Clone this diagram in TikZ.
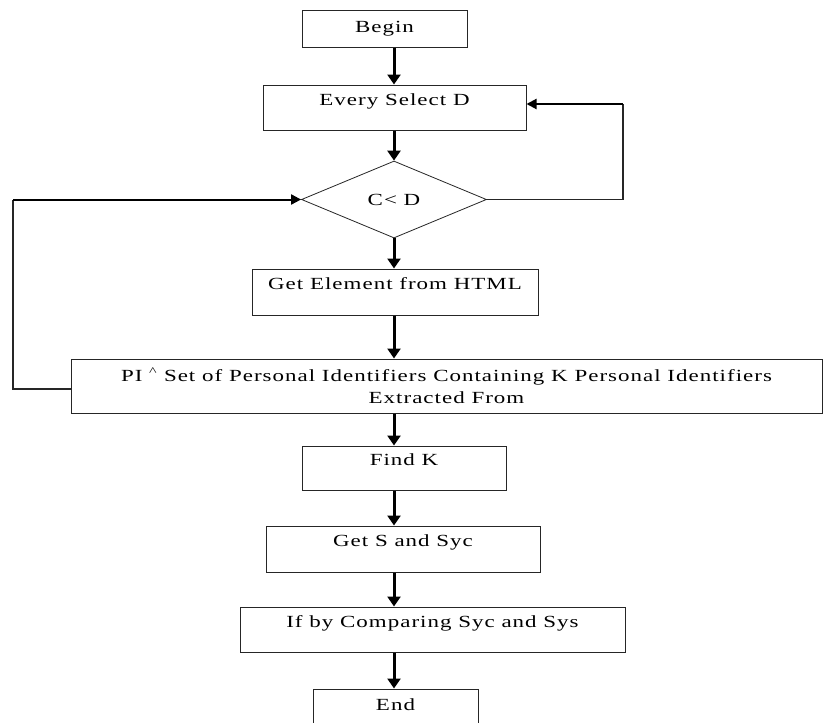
\documentclass[tikz,border=0pt]{standalone}
\usepackage{fontspec}
\setmainfont{Liberation Serif}[FakeStretch=1.35,LetterSpace=6]
\usetikzlibrary{shapes.geometric,arrows.meta,calc}
\tikzset{
  box/.style={draw=black!85, line width=1pt, rectangle, inner sep=0pt, align=center,
    font=\fontsize{17}{16}\selectfont},
  twobox/.style={box, font=\fontsize{17}{22}\selectfont},
  dec/.style={draw=black!85, line width=0.8pt, diamond, inner sep=0pt,
    font=\fontsize{17}{16}\selectfont},
  arr/.style={draw=black, line width=3pt, -{Triangle[length=10pt,width=13pt]}},
  loopline/.style={draw=black!85, line width=1.2pt},
  looparr/.style={draw=black, line width=2pt, -{Triangle[length=10pt,width=10pt]}},
}
\begin{document}
\begin{tikzpicture}[x=1pt,y=-1pt]
\useasboundingbox (0,0) rectangle (828,723);
\fill[white] (0,0) rectangle (828,723);
\coordinate (col) at (394,0);
\node[box, minimum width=165, minimum height=37] (begin) at (384.5,28.5) {Begin};
\node[box, minimum width=263, minimum height=45] (every) at (394.5,107.5) {Every Select D\\\mbox{}};
\node[dec, minimum width=185, minimum height=77] (cond) at (394,199.5) {C< D};
\node[box, minimum width=286, minimum height=46] (getel) at (395,292) {Get Element from HTML\\\mbox{}};
\node[twobox, minimum width=751, minimum height=54] (pi) at (446.5,386) {PI \textsuperscript{\^{}} Set of Personal Identifiers Containing K Personal Identifiers\\Extracted From};
\node[box, minimum width=204, minimum height=44] (findk) at (404,468) {Find K\\\mbox{}};
\node[box, minimum width=274, minimum height=46] (gets) at (403,549) {Get S and Syc\\\mbox{}};
\node[box, minimum width=385, minimum height=45] (ifby) at (432.5,629.5) {If by Comparing Syc and Sys\\\mbox{}};
\node[box, minimum width=165, minimum height=48] (end) at (395.5,713) {End\\\mbox{}};

\draw[arr] (begin.south -| col) -- (every.north -| col);
\draw[arr] (every.south -| col) -- (cond.north);
\draw[arr] (cond.south) -- (getel.north -| cond.south);
\draw[arr] (getel.south -| col) -- (pi.north -| col);
\draw[arr] (pi.south -| col) -- (findk.north -| col);
\draw[arr] (findk.south -| col) -- (gets.north -| col);
\draw[arr] (gets.south -| col) -- (ifby.north -| col);
\draw[arr] (ifby.south -| col) -- (end.north -| col);

\coordinate (rb) at (623,199.5);
\coordinate (rt) at (623,104);
\draw[loopline] (cond.east) -- (rb) -- (rt);
\draw[looparr] (rt) -- (every.east |- rt);

\coordinate (lb) at (13,389);
\coordinate (lt) at (13,199.5);
\draw[loopline] (pi.west |- lb) -- (lb) -- (lt);
\draw[looparr] (lt) -- (cond.west);
\end{tikzpicture}
\end{document}
